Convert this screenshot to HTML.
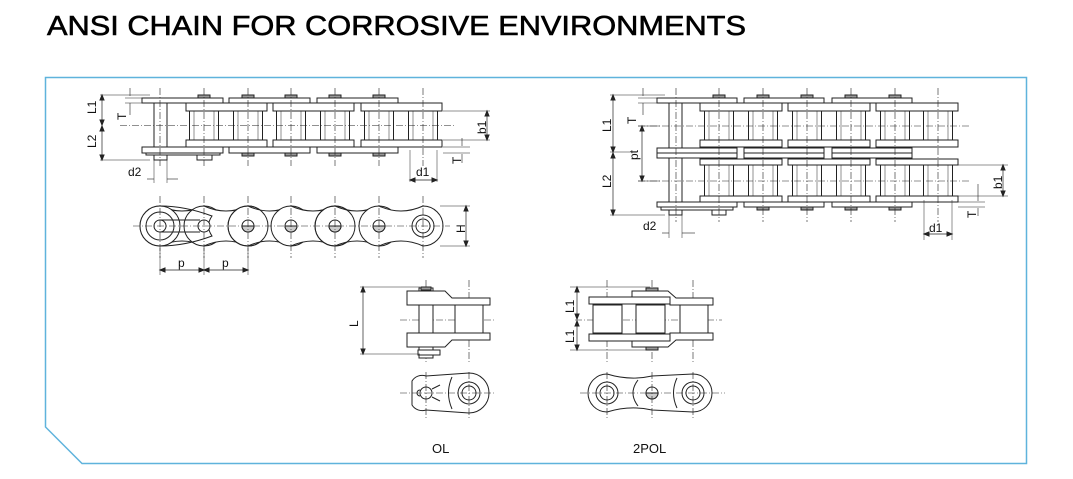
<!DOCTYPE html>
<html><head><meta charset="utf-8"><style>
html,body{margin:0;padding:0;background:#fff;}
svg{display:block}
text{font-family:"Liberation Sans",sans-serif;fill:#111}
</style></head><body>
<svg id="s" width="1073" height="479" viewBox="0 0 1073 479" xmlns="http://www.w3.org/2000/svg">
<text x="47" y="35" font-size="28" textLength="699" lengthAdjust="spacingAndGlyphs" style="fill:#000;stroke:#000;stroke-width:0.6">ANSI CHAIN FOR CORROSIVE ENVIRONMENTS</text>
<path d="M45.5 77.5 H1026.5 V463.5 H82 L45.5 427 Z" fill="none" stroke="#5fb3dc" stroke-width="1.5"/>
<g id="g" fill="none" stroke="#222" stroke-width="1"></g>
<g font-size="12">
<text x="86" y="112" transform="rotate(-90 92 108)">L1</text>
<text x="86" y="146" transform="rotate(-90 92 142)">L2</text>
<text x="116" y="118" transform="rotate(-90 122 114)">T</text>
<text x="476" y="132" transform="rotate(-90 482 128)">b1</text>
<text x="451" y="162" transform="rotate(-90 457 158)">T</text>
<text x="416" y="176">d1</text>
<text x="128" y="176">d2</text>
<text x="178" y="267">p</text>
<text x="222" y="267">p</text>
<text x="455" y="231" transform="rotate(-90 461 227)">H</text>
<text x="601" y="130" transform="rotate(-90 607 126)">L1</text>
<text x="601" y="186" transform="rotate(-90 607 182)">L2</text>
<text x="626" y="122" transform="rotate(-90 632 118)">T</text>
<text x="628" y="158" transform="rotate(-90 634 154)">pt</text>
<text x="992" y="187" transform="rotate(-90 998 183)">b1</text>
<text x="966" y="216" transform="rotate(-90 972 212)">T</text>
<text x="929" y="232">d1</text>
<text x="643" y="230">d2</text>
<text x="348" y="325" transform="rotate(-90 354 321)">L</text>
<text x="564" y="311" transform="rotate(-90 570 307)">L1</text>
<text x="564" y="341" transform="rotate(-90 570 337)">L1</text>
<text x="432" y="453" font-size="13">OL</text>
<text x="633" y="453" font-size="13">2POL</text>
</g>
</svg>
<script>
const g=document.getElementById('g');
function E(t,a){const e=document.createElementNS('http://www.w3.org/2000/svg',t);for(const k in a)e.setAttribute(k,a[k]);g.appendChild(e);return e;}
function R(x,y,w,h,f){return E('rect',{x,y,width:w,height:h,fill:f||'#fff'});}
function L(x1,y1,x2,y2,w){return E('line',{x1,y1,x2,y2,'stroke-width':w||0.8});}
function C(x1,y1,x2,y2){return E('line',{x1,y1,x2,y2,'stroke-width':0.6,'stroke-dasharray':'7 2 1 2'});}
function Ci(cx,cy,r,f){return E('circle',{cx,cy,r,fill:f||'none'});}
function P(d,f){return E('path',{d,fill:f||'none'});}
function arrV(x,y1,y2){L(x,y1,x,y2,0.7);P(`M${x-2} ${y1+5}L${x} ${y1}L${x+2} ${y1+5}Z`,'#222');P(`M${x-2} ${y2-5}L${x} ${y2}L${x+2} ${y2-5}Z`,'#222');}
function arrH(y,x1,x2){L(x1,y,x2,y,0.7);P(`M${x1+5} ${y-2}L${x1} ${y}L${x1+5} ${y+2}Z`,'#222');P(`M${x2-5} ${y-2}L${x2} ${y}L${x2-5} ${y+2}Z`,'#222');}

const p1=[160,204,248,291,335,379,423];
p1.slice(1).forEach(p=>{R(p-14.5,111,29,29);L(p-10,111,p-10,140,0.5);L(p+10,111,p+10,140,0.5);});
R(154,98,13,62);R(154,153,13,7);R(197,153,15,7);R(146,153,74,2);
[186,273,361].forEach(x=>{R(x,103,81,8);R(x,140,81,7);});
[142,229,317].forEach(x=>{R(x,98,81,5);R(x,147,81,6);});
[204,248,291,335,379].forEach(p=>R(p-6,95,12,3,'#999'));
[248,291,335,379].forEach(p=>R(p-6,153,12,3,'#999'));
C(120,125.5,455,125.5);
p1.forEach(p=>C(p,88,p,166));
L(100,95,150,95,0.6);L(100,160,150,160,0.6);arrV(102,95,125);arrV(102,126,160);
L(130,88,130,96,0.6);L(130,103,130,115,0.6);L(125,98,150,98,0.5);L(125,103,150,103,0.5);
L(443,111,490,111,0.5);L(443,140,490,140,0.5);arrV(487,111,140);
L(443,147,470,147,0.5);L(443,153,470,153,0.5);L(462,138,462,146,0.6);L(462,154,462,163,0.6);
L(410,150,410,182,0.5);L(437,150,437,182,0.5);arrH(180,410,437);
L(154,158,154,183,0.5);L(167,158,167,183,0.5);L(147,179,154,179,0.6);L(167,179,178,179,0.6);

const cy=226;
function pea(a,b){const m=(a+b)/2;P(`M${a} ${cy-20}Q${m} ${cy-10} ${b} ${cy-20}A20 20 0 0 1 ${b} ${cy+20}Q${m} ${cy+10} ${a} ${cy+20}A20 20 0 0 1 ${a} ${cy-20}Z`,'#fff');}
for(let i=0;i<6;i++)pea(p1[i],p1[i+1]);
Ci(160,cy,20,'#fff');Ci(160,cy,14);
[248,335].forEach(p=>Ci(p,cy,20));
P(`M160 ${cy-20}Q185 ${cy-20} 212 ${cy-10}Q205 ${cy} 212 ${cy+10}Q185 ${cy+20} 160 ${cy+20}`,'none');
P(`M160 ${cy-6}H200 M160 ${cy+6}H200`);
[160,204].forEach(p=>Ci(p,cy,6,'#fff'));
[248,291,335,379].forEach(p=>{Ci(p,cy,6,'#fff');P(`M${p-6} ${cy}A6 6 0 0 0 ${p+6} ${cy}Z`,'#ccc');});
Ci(423,cy,11,'#fff');Ci(423,cy,7);
C(133,cy,450,cy);p1.forEach(p=>C(p,196,p,258));
L(440,206,470,206,0.5);L(440,246,470,246,0.5);arrV(466,206,246);
L(160,248,160,275,0.5);L(204,248,204,275,0.5);L(248,248,248,275,0.5);arrH(270,160,204);arrH(270,204,248);

const p2=[676,719,763,807,851,895,938];
p2.slice(1).forEach(p=>{R(p-14.5,111,29,29);R(p-14.5,165,29,31);L(p-10,111,p-10,140,0.5);L(p+10,111,p+10,140,0.5);L(p-10,165,p-10,196,0.5);L(p+10,165,p+10,196,0.5);});
R(669,98,13,117);R(669,207,13,8);R(712,207,14,8);R(661,207,72,3);
[700,788,876].forEach(x=>{R(x,103,82,8);R(x,140,82,7);R(x,159,82,6);R(x,196,82,6);});
[657,744,832].forEach(x=>{R(x,98,80,5);R(x,148,80,5);R(x,153,80,5);R(x,202,80,5);});
[719,763,807,851,895].forEach(p=>R(p-6,95,12,3,'#999'));
[763,807,851,895].forEach(p=>R(p-6,207,12,3,'#999'));
C(638,126,970,126);C(638,181,970,181);
p2.forEach(p=>C(p,88,p,222));
L(610,95,665,95,0.6);L(610,215,665,215,0.6);L(610,152,630,152,0.5);arrV(613,95,152);arrV(613,153,215);
L(643,88,643,96,0.6);L(643,103,643,115,0.6);L(638,98,665,98,0.5);L(638,103,665,103,0.5);
arrV(642,126,181);L(638,126,660,126,0.5);L(638,181,660,181,0.5);
L(958,165,1008,165,0.5);L(958,196,1008,196,0.5);arrV(1003,165,196);
L(958,202,985,202,0.5);L(958,207,985,207,0.5);L(978,184,978,201,0.6);L(978,208,978,216,0.6);
L(924,200,924,240,0.5);L(952,200,952,240,0.5);arrH(234,924,952);
L(669,213,669,238,0.5);L(682,213,682,238,0.5);L(662,233,669,233,0.6);L(682,233,695,233,0.6);

C(426,280,426,362);C(469,280,469,362);C(400,320,495,320);
R(419,288,14,70);R(418,350,22,5);
P('M407 291H445L452 298H490V305H407Z','#fff');
P('M407 347H445L452 340H490V333H407Z','#fff');
R(455,305,28,28);
R(421,287,10,3,'#999');
L(360,287,420,287,0.5);L(360,354,420,354,0.5);arrV(363,287,354);
const oy=393;
P(`M412 ${oy-12}A12 12 0 0 1 426 ${oy-17}L469 ${oy-20}A20 20 0 0 1 469 ${oy+20}L426 ${oy+17}A12 12 0 0 1 412 ${oy+12}Z`,'#fff');
P(`M452 ${oy-16}Q445 ${oy} 452 ${oy+16}`);
Ci(426,oy,6,'#fff');Ci(469,oy,11);Ci(469,oy,7);
P(`M432 ${oy-4}L440 ${oy-8}M432 ${oy+4}L440 ${oy+8}M420 ${oy-3}A3 3 0 0 0 420 ${oy+3}`);
C(400,oy,495,oy);C(426,372,426,420);C(469,372,469,420);

[607,652,693].forEach(p=>C(p,280,p,362));C(575,320,722,320);
R(593,305,29,28);R(636,305,29,28);R(680,305,28,28);
R(589,297,81,7);R(589,334,81,7);
P('M632 291H668L676 298H713V305H670V297H632Z','#fff');
P('M632 347H668L676 340H713V333H670V341H632Z','#fff');
R(646,288,12,3,'#999');R(646,347,12,3,'#999');
L(570,287,650,287,0.5);L(570,350,650,350,0.5);arrV(577,287,319);arrV(577,321,350);
P(`M607 ${oy-19}Q630 ${oy-12} 652 ${oy-17}L693 ${oy-19}A19 19 0 0 1 693 ${oy+19}L652 ${oy+17}Q630 ${oy+12} 607 ${oy+19}A19 19 0 0 1 607 ${oy-19}Z`,'#fff');
P(`M638 ${oy-13}Q628 ${oy} 638 ${oy+13}`);P(`M677 ${oy-15}Q670 ${oy} 677 ${oy+15}`);
Ci(607,oy,11);Ci(607,oy,7);Ci(652,oy,6,'#fff');P(`M646 ${oy}A6 6 0 0 0 658 ${oy}Z`,'#ccc');Ci(693,oy,11);Ci(693,oy,7);
C(580,oy,725,oy);[607,652,693].forEach(p=>C(p,372,p,420));
</script>
</body></html>
